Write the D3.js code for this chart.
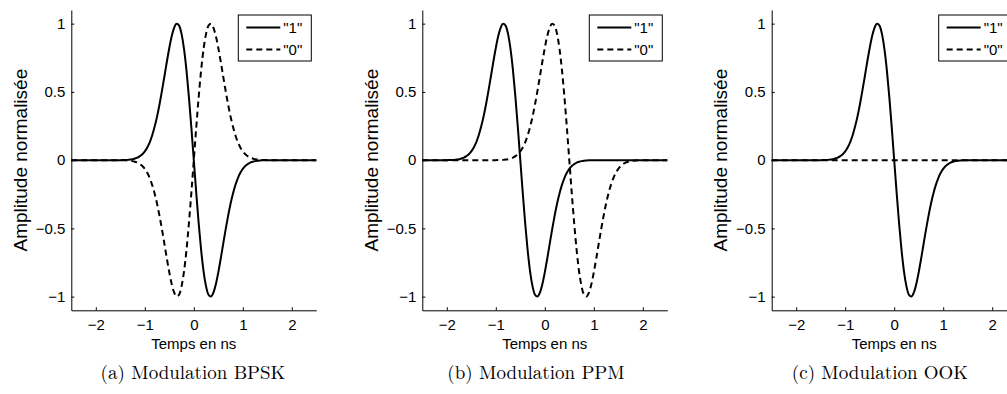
<!DOCTYPE html>
<html>
<head>
<meta charset="utf-8">
<script src="https://cdn.jsdelivr.net/npm/d3@7"></script>
<style>
  body { margin: 0; background: #fff; }
  svg { display: block; }
</style>
</head>
<body>
<div id="chart"></div>
<script>
// pulse shape (time in ns, normalised amplitude)
const pulseT = [-1.5, -1.45, -1.4, -1.35, -1.3, -1.25, -1.2, -1.15, -1.1, -1.05,
  -1.0, -0.95, -0.9, -0.85, -0.8, -0.75, -0.7, -0.65, -0.6, -0.55,
  -0.5, -0.45, -0.4, -0.35, -0.3, -0.25, -0.2, -0.15, -0.1, -0.05,
  0,
  0.05, 0.1, 0.15, 0.2, 0.25, 0.3, 0.35, 0.4, 0.45, 0.5,
  0.55, 0.6, 0.65, 0.7, 0.75, 0.8, 0.85, 0.9, 0.95, 1.0,
  1.05, 1.1, 1.15, 1.2, 1.25, 1.3, 1.35, 1.4, 1.45, 1.5];
const pulseY = [0, 0.0005, 0.001, 0.002, 0.004, 0.007, 0.012, 0.018, 0.029, 0.043,
  0.064, 0.093, 0.131, 0.181, 0.244, 0.319, 0.408, 0.507, 0.613, 0.721,
  0.822, 0.909, 0.971, 0.999, 0.986, 0.925, 0.816, 0.660, 0.464, 0.240,
  0,
  -0.240, -0.464, -0.660, -0.816, -0.925, -0.986, -0.999, -0.971, -0.909, -0.822,
  -0.721, -0.613, -0.507, -0.408, -0.319, -0.244, -0.181, -0.131, -0.093, -0.064,
  -0.043, -0.029, -0.018, -0.012, -0.007, -0.004, -0.002, -0.001, -0.0005, 0];

// each panel: caption, then how "1" and "0" use the pulse (delay in ns, sign; sign 0 = no pulse)
const captions = ["(a) Modulation BPSK", "(b) Modulation PPM", "(c) Modulation OOK"];
const delayOne  = [0, -0.5, 0];
const signOne   = [1, 1, 1];
const delayZero = [0, 0.5, 0];
const signZero  = [-1, 1, 0];

const legendLabels = ['"1"', '"0"'];
const xTicks = [-2, -1, 0, 1, 2];
const yTicks = [-1, -0.5, 0, 0.5, 1];

const W = 1007, H = 394;
const panelLeft = [71.3, 422.3, 771.7];
const captionX = [193, 536, 880];
const pw = 245, plotTop = 10, ph = 300.3;
const font = "'Liberation Sans', Arial, Helvetica, sans-serif";

const svg = d3.select("#chart").append("svg")
    .attr("width", W)
    .attr("height", H);
svg.append("rect").attr("width", W).attr("height", H).attr("fill", "#fff");

const x = d3.scaleLinear().domain([-2.5, 2.5]).range([0, pw]);
const y = d3.scaleLinear().domain([-1.1, 1.1]).range([ph, 0]);
const fmt = d => String(d).replace("-", "\u2212");

function series(delay, sign) {
    const pts = [[-2.5, 0]];
    if (sign !== 0) {
        pulseT.forEach((t, i) => pts.push([t + delay, sign * pulseY[i]]));
    }
    pts.push([2.5, 0]);
    return pts;
}

const line = d3.line()
    .x(d => x(d[0]))
    .y(d => y(d[1]))
    .curve(d3.curveMonotoneX);

captions.forEach((cap, p) => {
    const g = svg.append("g").attr("transform", `translate(${panelLeft[p]}, ${plotTop})`);

    // curves
    g.append("path")
        .datum(series(delayZero[p], signZero[p]))
        .attr("d", line)
        .attr("fill", "none")
        .attr("stroke", "#000")
        .attr("stroke-width", 2)
        .attr("stroke-dasharray", "6,4");
    g.append("path")
        .datum(series(delayOne[p], signOne[p]))
        .attr("d", line)
        .attr("fill", "none")
        .attr("stroke", "#000")
        .attr("stroke-width", 2);

    // axes, matlab style: ticks inside
    const gx = g.append("g")
        .attr("transform", `translate(0, ${ph})`)
        .call(d3.axisBottom(x).tickValues(xTicks).tickSize(-3).tickPadding(9).tickFormat(fmt).tickSizeOuter(0));
    const gy = g.append("g")
        .call(d3.axisLeft(y).tickValues(yTicks).tickSize(-3).tickPadding(6).tickFormat(fmt).tickSizeOuter(0));
    [gx, gy].forEach(a => {
        a.select(".domain").attr("stroke", "#000").attr("stroke-width", 1);
        a.selectAll(".tick line").attr("stroke", "#000");
        a.selectAll("text").attr("font-family", font).attr("font-size", 15).attr("fill", "#000");
    });

    g.append("text")
        .attr("x", pw / 2)
        .attr("y", ph + 39)
        .attr("text-anchor", "middle")
        .attr("font-family", font)
        .attr("font-size", 15)
        .text("Temps en ns");

    g.append("text")
        .attr("transform", `translate(-44.6, ${ph / 2}) rotate(-90)`)
        .attr("text-anchor", "middle")
        .attr("font-family", font)
        .attr("font-size", 19)
        .text("Amplitude normalisée");

    // legend
    const lg = g.append("g").attr("transform", `translate(${pw - 78}, 5)`);
    lg.append("rect")
        .attr("width", 73).attr("height", 46)
        .attr("fill", "#fff").attr("stroke", "#000").attr("stroke-width", 1);
    legendLabels.forEach((lab, i) => {
        const ly = 12.5 + i * 22;
        lg.append("line")
            .attr("x1", 8).attr("x2", 42).attr("y1", ly).attr("y2", ly)
            .attr("stroke", "#000").attr("stroke-width", 2)
            .attr("stroke-dasharray", i === 1 ? "6,4" : null);
        lg.append("text")
            .attr("x", 45).attr("y", ly + 5.5)
            .attr("font-family", font).attr("font-size", 15)
            .text(lab);
    });

    svg.append("text")
        .attr("x", captionX[p])
        .attr("y", 379)
        .attr("text-anchor", "middle")
        .attr("font-family", "'Latin Modern Roman', 'CMU Serif', 'DejaVu Serif', serif")
        .attr("font-size", 19)
        .text(cap);
});
</script>
</body>
</html>
